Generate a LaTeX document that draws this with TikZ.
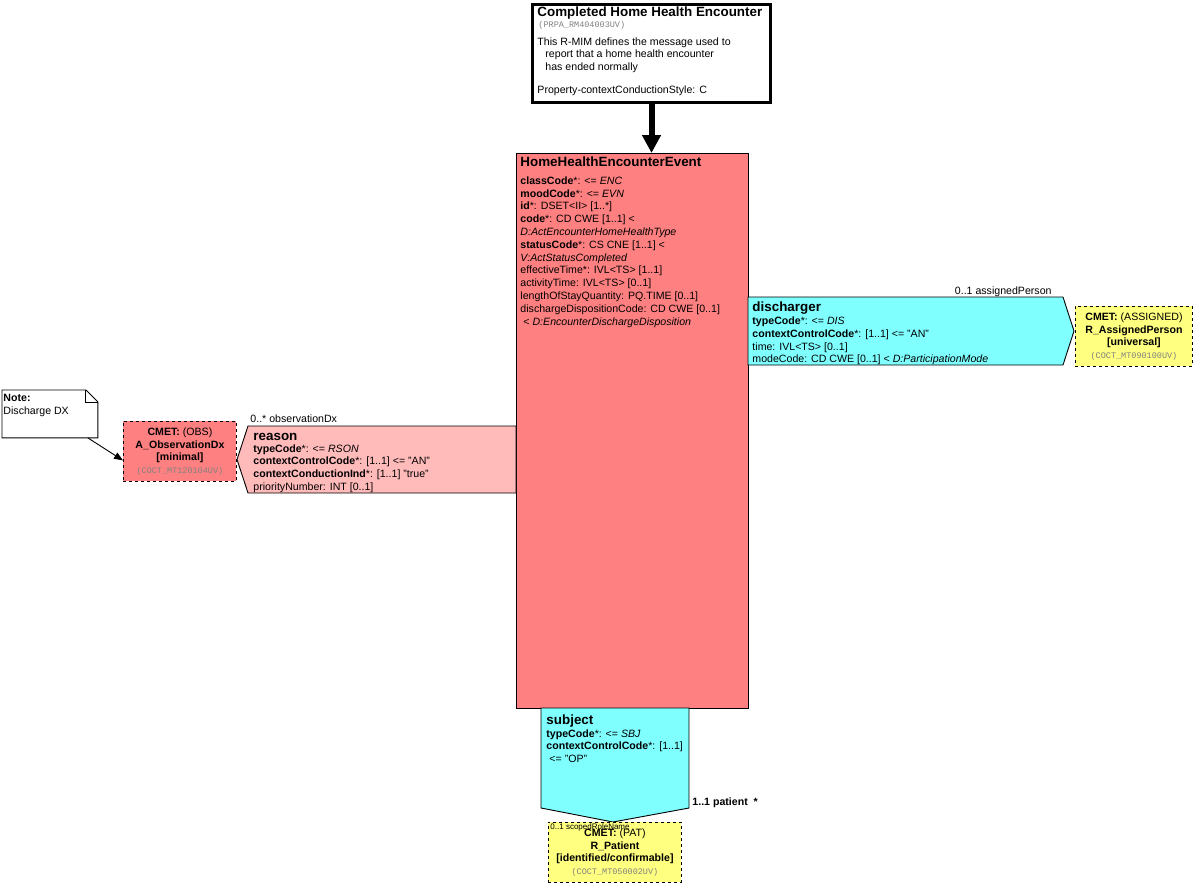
\documentclass[tikz,border=0pt]{standalone}
\usepackage{fontspec}
\setmainfont{Liberation Sans}
\setmonofont{Liberation Mono}
\usetikzlibrary{arrows.meta}
\definecolor{actred}{HTML}{FF8080}
\definecolor{actpink}{HTML}{FFBABA}
\definecolor{partcyan}{HTML}{80FFFF}
\definecolor{roleyellow}{HTML}{FFFF80}
\newcommand\attrfont{\fontsize{10.6}{12.8}\selectfont}
\newcommand\namefont{\fontsize{13.4}{15}\selectfont\bfseries}
\newcommand\idfont{\fontsize{8.5}{11}\selectfont\ttfamily\color{gray}}

\begin{document}
\begin{tikzpicture}[x=1pt,y=-1pt,line width=0.9pt]
\tikzstyle{txt}=[inner sep=0pt, anchor=base west, align=left, font=\attrfont]
\tikzstyle{clsbox}=[draw, rectangle, anchor=north west, inner sep=0pt]
\tikzstyle{cmet}=[clsbox, dashed, align=center, font=\attrfont]
\useasboundingbox (0,0) rectangle (1194,883);

\node[clsbox, line width=3pt, fill=white, minimum width=238, minimum height=98] (rmim) at (531,3) {};
\node[txt, font=\namefont] (rmimname) at (537,17) {Completed Home Health Encounter};
\node[txt, font=\idfont] (rmimid) at (538,27.5) {(PRPA\_RM404003UV)};
\node[txt] (rmimdesc) at (537,93.9) {This R-MIM defines the message used to\\
  \hspace*{8pt}report that a home health encounter\\
  \hspace*{8pt}has ended normally\\[10.5pt]
  Property-contextConductionStyle: C};

\node[clsbox, fill=actred, minimum width=232, minimum height=555] (hhevent) at (516,153) {};
\node[txt, font=\namefont] (hhname) at (520,166) {HomeHealthEncounterEvent};
\node[txt] (hhattrs) at (520,325) {\textbf{classCode}*: <= \textit{ENC}\\
  \textbf{moodCode}*: <= \textit{EVN}\\
  \textbf{id}*: DSET<II> [1..*]\\
  \textbf{code}*: CD CWE [1..1] <\\
  \textit{D:ActEncounterHomeHealthType}\\
  \textbf{statusCode}*: CS CNE [1..1] <\\
  \textit{V:ActStatusCompleted}\\
  effectiveTime*: IVL<TS> [1..1]\\
  activityTime: IVL<TS> [0..1]\\
  lengthOfStayQuantity: PQ.TIME [0..1]\\
  dischargeDispositionCode: CD CWE [0..1]\\
  \hspace*{3pt}< \textit{D:EncounterDischargeDisposition}};

\draw[line width=6pt, -{Triangle[length=18pt,width=18pt]}] (rmim.south) -- (rmim.south |- hhevent.north);

\draw[fill=partcyan] (748,297) -- (1063,297) -- (1074,331) -- (1063,365) -- (748,365) -- cycle;
\node[txt, font=\namefont] (dischname) at (752,311) {discharger};
\node[txt] (dischattrs) at (752,362.9) {\textbf{typeCode}*: <= \textit{DIS}\\
  \textbf{contextControlCode}*: [1..1] <= "AN"\\
  time: IVL<TS> [0..1]\\
  modeCode: CD CWE [0..1] < \textit{D:ParticipationMode}};
\node[txt, anchor=base east] (assignedlbl) at (1052,294) {0..1 assignedPerson};

\node[cmet, fill=roleyellow, minimum width=117, minimum height=60] (assigned) at (1075,306)
  {\textbf{CMET:} (ASSIGNED)\\ \textbf{R\_AssignedPerson}\\ \textbf{[universal]}\\ {\idfont (COCT\_MT090100UV)}};

\draw[fill=actpink] (516,426) -- (248,426) -- (237,459.5) -- (248,493) -- (516,493) -- cycle;
\node[txt, font=\namefont] (reasonname) at (253,440) {reason};
\node[txt] (reasonattrs) at (253,490.5) {\textbf{typeCode}*: <= \textit{RSON}\\
  \textbf{contextControlCode}*: [1..1] <= "AN"\\
  \textbf{contextConductionInd}*: [1..1] "true"\\
  priorityNumber: INT [0..1]};
\node[txt] (obslbl) at (250,422) {0..* observationDx};

\node[cmet, fill=actred, minimum width=113, minimum height=60] (obsdx) at (123,421)
  {\textbf{CMET:} (OBS)\\ \textbf{A\_ObservationDx}\\ \textbf{[minimal]}\\ {\idfont (COCT\_MT120104UV)}};

\node[anchor=north west, inner sep=0pt, minimum width=95, minimum height=47] (note) at (2,390) {};
\draw[fill=white] (note.north west) -- ([xshift=-12pt]note.north east) -- ([yshift=-12pt]note.north east)
  -- (note.south east) -- (note.south west) -- cycle;
\draw ([xshift=-12pt]note.north east) -- ([xshift=-12pt,yshift=-12pt]note.north east) -- ([yshift=-12pt]note.north east);
\node[txt] (notetext) at (3,414.3) {\textbf{Note:}\\ Discharge DX};
\draw[-{Triangle[length=9pt,width=7pt]}] ([xshift=-10pt]note.south east) -- ([yshift=-9pt]obsdx.west);

\draw[fill=partcyan] (541,708) -- (689,708) -- (689,808) -- (613,822) -- (541,808) -- cycle;
\node[txt, font=\namefont] (subjname) at (546,724) {subject};
\node[txt] (subjattrs) at (546,762.6) {\textbf{typeCode}*: <= \textit{SBJ}\\
  \textbf{contextControlCode}*: [1..1]\\
  \hspace*{3pt}<= "OP"};
\node[txt, font=\attrfont\bfseries] (patientlbl) at (692,805) {1..1 patient\ \ *};

\node[cmet, fill=roleyellow, minimum width=133, minimum height=60] (patient) at (548,822)
  {\textbf{CMET:} (PAT)\\ \textbf{R\_Patient}\\ \textbf{[identified/confirmable]}\\ {\idfont (COCT\_MT050002UV)}};
\node[txt, font=\fontsize{8}{9}\selectfont] (scopedlbl) at (550,829) {0..1 scopedRoleName};
\end{tikzpicture}
\end{document}
